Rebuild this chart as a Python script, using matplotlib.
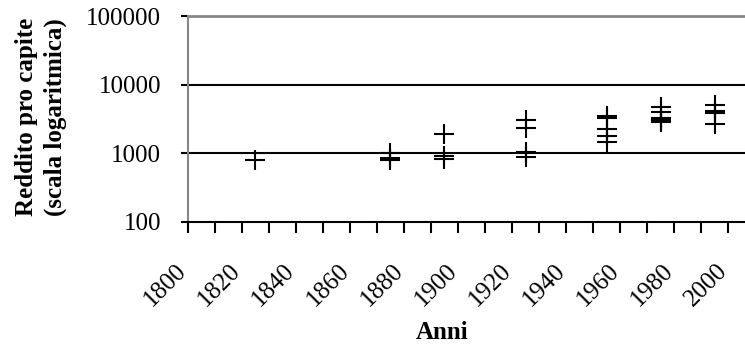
"""Reddito pro capite nel tempo, scala logaritmica."""
import matplotlib
matplotlib.use('Agg')
import matplotlib.pyplot as plt
from matplotlib.ticker import MultipleLocator, FixedLocator, NullFormatter

# dati
anni_gruppi = [1825, 1875, 1895, 1925, 1955, 1975, 1995]
redditi = [
    [800],
    [1000, 850, 800],
    [1930, 920, 815],
    [3010, 2290, 1035, 865],
    [3500, 3300, 2270, 1800, 1440],
    [4750, 4000, 3200, 3000, 2800],
    [5100, 4150, 3800, 2630],
]
etichette_x = list(range(1800, 2001, 20))
etichette_y = [100, 1000, 10000, 100000]

plt.rcParams['font.family'] = ['Liberation Serif', 'DejaVu Serif']
plt.rcParams['font.size'] = 18

fig = plt.figure(figsize=(7.45, 3.5), dpi=100)
# area del grafico in pixel: sinistra 187.5, alto 16, basso 221.7, destra al bordo
ax = fig.add_axes([187.5 / 745, (350 - 221.7) / 350, 1 - 187.5 / 745, (221.7 - 16) / 350])

for anno, valori in zip(anni_gruppi, redditi):
    ax.plot([anno] * len(valori), valori, '+', color='black',
            markersize=13.7, markeredgewidth=1.5, clip_on=False, zorder=3)

ax.set_yscale('log')
ax.set_ylim(100, 100000)
ax.set_xlim(1800, 1800 + (745 - 187.5) / 2.704)

ax.yaxis.set_major_locator(FixedLocator(etichette_y))
ax.yaxis.set_minor_locator(FixedLocator([]))
ax.set_yticklabels([str(v) for v in etichette_y])
ax.tick_params(axis='y', which='major', direction='out', length=5, width=1.5,
               color='black', pad=14)

ax.xaxis.set_major_locator(FixedLocator(etichette_x))
ax.xaxis.set_minor_locator(MultipleLocator(10))
ax.xaxis.set_minor_formatter(NullFormatter())
ax.set_xticklabels([str(a) for a in etichette_x], rotation=45,
                   ha='right', va='baseline', rotation_mode='anchor')
ax.tick_params(axis='x', which='both', direction='out', length=8, width=1.5,
               color='black', pad=28)

for v in [1000, 10000]:
    ax.axhline(v, color='black', linewidth=1.5, zorder=2)

ax.spines['top'].set_color('#888888')
ax.spines['top'].set_linewidth(2)
ax.spines['left'].set_color('#888888')
ax.spines['left'].set_linewidth(1.5)
ax.spines['bottom'].set_color('black')
ax.spines['bottom'].set_linewidth(1.5)
ax.spines['right'].set_visible(False)

ax.set_xlabel('Anni', fontweight='bold')
ax.xaxis.set_label_coords(0.456, -0.54)
ax.set_ylabel('Reddito pro capite\n(scala logaritmica)', fontweight='bold',
              linespacing=1.3)
ax.yaxis.set_label_coords(-0.263, 0.509)
ax.yaxis.label.set_va('center')
ax.xaxis.label.set_va('center')

fig.savefig('out.png', dpi=100)
